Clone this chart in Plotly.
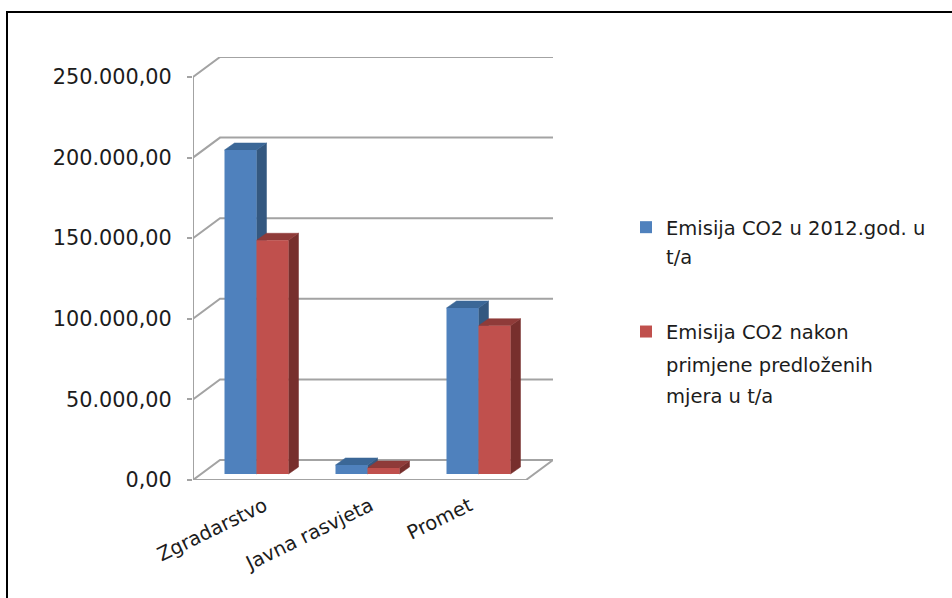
import plotly.graph_objects as go

categories = ["Zgradarstvo", "Javna rasvjeta", "Promet"]
category_label_positions = [0.5, 1.455, 2.347]
series_2012 = [201000, 5600, 103000]
series_after = [145000, 3700, 92000]
tick_values = [0, 50000, 100000, 150000, 200000, 250000]
name_2012 = "Emisija CO2 u 2012.god. u"
name_after = "Emisija CO2 nakon"
more_lines = [("t/a", 258), ("primjene predloženih", 365), ("mjera u t/a", 396)]

PX_X = 111.0           # pixels per category
PX_Y = 403 / 250000    # pixels per value unit
WALL_DX, WALL_DY = 27 / PX_X, 20 / PX_Y
BAR_DX, BAR_DY = 10 / PX_X, 7 / PX_Y
FLOOR_DX, FLOOR_DY = 8 / PX_X, 6 / PX_Y
BAR_W = 32 / PX_X
N = len(categories)
GRID = "#a3a3a3"
BLUE, BLUE_TOP, BLUE_SIDE = "#4F81BD", "#3B6797", "#345880"
RED, RED_TOP, RED_SIDE = "#C0504D", "#8F3B39", "#772F2D"
FONT = "DejaVu Sans"
INK = "#1c1c1c"
LEGEND_SIZE = 19.5

fig = go.Figure()


def line(xs, ys):
    fig.add_trace(go.Scatter(x=xs, y=ys, mode="lines", xaxis="x", yaxis="y", cliponaxis=False,
                             line=dict(color=GRID, width=2), showlegend=False, hoverinfo="skip"))


# walls and floor
for v in tick_values:
    line([0, WALL_DX, N + WALL_DX], [v, v + WALL_DY, v + WALL_DY])
line([0, 0], [0, tick_values[-1]])
line([0, N, N + WALL_DX], [0, 0, WALL_DY])


def poly(xs, ys, color):
    fig.add_trace(go.Scatter(x=xs + xs[:1], y=ys + ys[:1], mode="lines", fill="toself", fillcolor=color,
                             xaxis="x", yaxis="y", line=dict(color=color, width=0.5),
                             showlegend=False, hoverinfo="skip"))


centers = [i + 0.5 + FLOOR_DX for i in range(N)]
# depth faces of the bars, drawn back to front
for i in range(N):
    for vals, left, top_c, side_c in ((series_2012, -BAR_W, BLUE_TOP, BLUE_SIDE),
                                      (series_after, 0, RED_TOP, RED_SIDE)):
        l = centers[i] + left
        r = l + BAR_W
        b = FLOOR_DY
        t = b + vals[i]
        poly([r, r + BAR_DX, r + BAR_DX, r], [b, b + BAR_DY, t + BAR_DY, t], side_c)
        poly([l, l + BAR_DX, r + BAR_DX, r], [t, t + BAR_DY, t + BAR_DY, t], top_c)

# front faces: real bars on an overlaid copy of the axes
fig.add_trace(go.Bar(x=centers, y=series_2012, base=FLOOR_DY, width=BAR_W, offset=-BAR_W, name=name_2012,
                     marker=dict(color=BLUE, line=dict(width=0)), xaxis="x2", yaxis="y2", legendgroup="a"))
fig.add_trace(go.Bar(x=centers, y=series_after, base=FLOOR_DY, width=BAR_W, offset=0, name=name_after,
                     marker=dict(color=RED, line=dict(width=0)), xaxis="x2", yaxis="y2", legendgroup="b"))

x_range = [0, N + WALL_DX]
y_range = [0, tick_values[-1] + WALL_DY]
dom_x = [193 / 952, 553 / 952]
dom_y = [1 - 480 / 598, 1 - 57 / 598]

fig.update_layout(
    template="none",
    width=952, height=598, autosize=False,
    margin=dict(l=0, r=0, t=0, b=0),
    paper_bgcolor="white", plot_bgcolor="rgba(0,0,0,0)",
    separators=",.",
    font=dict(family=FONT, size=16, color=INK),
    barmode="overlay",
    showlegend=True,
    legend=dict(x=626 / 952, y=1 - 208 / 598, xanchor="left", yanchor="top", bgcolor="rgba(0,0,0,0)",
                tracegroupgap=76, font=dict(family=FONT, size=LEGEND_SIZE, color=INK)),
    xaxis=dict(domain=dom_x, range=x_range, showgrid=False, zeroline=False, showline=False, automargin=False,
               tickmode="array", tickvals=category_label_positions, ticktext=categories,
               tickangle=-26, ticks="", ticklabelstandoff=10, ticklabelshift=16,
               tickfont=dict(family=FONT, size=19.5, color=INK)),
    yaxis=dict(domain=dom_y, range=y_range, showgrid=False, zeroline=False, showline=False, automargin=False,
               tickmode="array", tickvals=tick_values, tickformat=",.2f",
               ticks="outside", ticklen=5, tickwidth=2, tickcolor=GRID, ticklabelstandoff=11,
               tickfont=dict(family=FONT, size=20.8, color=INK)),
    xaxis2=dict(domain=dom_x, range=x_range, overlaying="x", visible=False, anchor="y2", automargin=False),
    yaxis2=dict(domain=dom_y, range=y_range, overlaying="y", visible=False, anchor="x2", automargin=False),
    annotations=[dict(text=t, xref="paper", yref="paper", x=664 / 952, y=1 - yy / 598, xanchor="left",
                      yanchor="middle", showarrow=False,
                      font=dict(family=FONT, size=LEGEND_SIZE, color=INK)) for t, yy in more_lines],
    shapes=[dict(type="rect", xref="paper", yref="paper", x0=7 / 952, x1=1.01, y0=-0.01, y1=1 - 12 / 598,
                 line=dict(color="black", width=2), fillcolor="rgba(0,0,0,0)", layer="below")],
)

fig.write_html("out.html", config={"displayModeBar": False},
               post_script="document.body.style.margin='0';document.body.style.overflow='hidden';")
